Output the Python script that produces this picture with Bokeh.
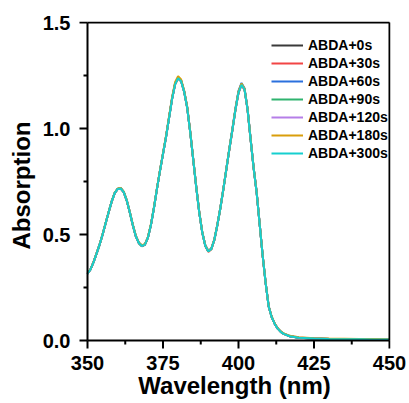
from bokeh.plotting import figure
from bokeh.models import Legend, LegendItem, Range1d, FixedTicker, NumeralTickFormatter
from bokeh.embed import file_html
from bokeh.resources import INLINE

wavelength = list(range(350, 416)) + [417, 420, 425, 430, 435, 440, 445, 450]

abs_0s = [
    0.315, 0.335, 0.370, 0.410, 0.452, 0.500, 0.553, 0.605, 0.655, 0.695,
    0.715, 0.718, 0.700, 0.660, 0.605, 0.545, 0.492, 0.460, 0.446, 0.452,
    0.485, 0.545, 0.625, 0.715, 0.800, 0.880, 0.960, 1.050, 1.140, 1.210,
    1.239, 1.225, 1.175, 1.100, 0.985, 0.855, 0.725, 0.605, 0.510, 0.448,
    0.421, 0.432, 0.475, 0.545, 0.625, 0.715, 0.810, 0.905, 0.995, 1.090,
    1.170, 1.208, 1.185, 1.090, 0.950, 0.815, 0.700, 0.550, 0.400, 0.270,
    0.160, 0.110, 0.078, 0.056, 0.041, 0.031,
    0.020, 0.013, 0.009, 0.007, 0.006, 0.006, 0.005, 0.005]
abs_30s = [
    0.316, 0.336, 0.371, 0.410, 0.452, 0.499, 0.552, 0.604, 0.654, 0.694,
    0.714, 0.716, 0.699, 0.659, 0.604, 0.544, 0.491, 0.459, 0.445, 0.451,
    0.484, 0.544, 0.624, 0.714, 0.799, 0.879, 0.959, 1.049, 1.138, 1.207,
    1.236, 1.222, 1.172, 1.098, 0.983, 0.853, 0.723, 0.603, 0.508, 0.446,
    0.418, 0.430, 0.473, 0.543, 0.623, 0.713, 0.808, 0.903, 0.993, 1.087,
    1.167, 1.205, 1.182, 1.088, 0.948, 0.813, 0.698, 0.549, 0.399, 0.269,
    0.160, 0.110, 0.078, 0.056, 0.041, 0.031,
    0.020, 0.013, 0.009, 0.007, 0.006, 0.006, 0.005, 0.005]
abs_60s = [
    0.315, 0.335, 0.370, 0.410, 0.452, 0.500, 0.553, 0.606, 0.656, 0.696,
    0.716, 0.719, 0.701, 0.661, 0.606, 0.546, 0.493, 0.461, 0.447, 0.453,
    0.486, 0.546, 0.626, 0.716, 0.801, 0.881, 0.962, 1.052, 1.142, 1.212,
    1.241, 1.227, 1.177, 1.102, 0.987, 0.857, 0.727, 0.607, 0.511, 0.449,
    0.422, 0.433, 0.476, 0.546, 0.627, 0.717, 0.813, 0.909, 1.000, 1.096,
    1.177, 1.215, 1.190, 1.094, 0.953, 0.817, 0.702, 0.551, 0.401, 0.271,
    0.161, 0.110, 0.078, 0.056, 0.041, 0.031,
    0.020, 0.013, 0.009, 0.007, 0.006, 0.006, 0.005, 0.005]
abs_90s = [
    0.315, 0.335, 0.370, 0.410, 0.452, 0.500, 0.553, 0.605, 0.655, 0.695,
    0.715, 0.717, 0.700, 0.660, 0.604, 0.544, 0.491, 0.459, 0.444, 0.451,
    0.484, 0.545, 0.625, 0.715, 0.800, 0.880, 0.960, 1.049, 1.139, 1.209,
    1.238, 1.224, 1.174, 1.099, 0.984, 0.854, 0.724, 0.604, 0.509, 0.447,
    0.420, 0.431, 0.474, 0.544, 0.624, 0.714, 0.809, 0.905, 0.996, 1.091,
    1.172, 1.210, 1.186, 1.091, 0.951, 0.815, 0.700, 0.550, 0.400, 0.270,
    0.160, 0.110, 0.078, 0.056, 0.041, 0.031,
    0.020, 0.013, 0.009, 0.007, 0.006, 0.006, 0.005, 0.005]
abs_120s = [
    0.315, 0.335, 0.370, 0.410, 0.452, 0.500, 0.553, 0.605, 0.655, 0.695,
    0.715, 0.718, 0.701, 0.661, 0.606, 0.546, 0.493, 0.461, 0.447, 0.453,
    0.486, 0.546, 0.626, 0.716, 0.801, 0.881, 0.961, 1.051, 1.141, 1.211,
    1.240, 1.226, 1.176, 1.101, 0.986, 0.856, 0.726, 0.606, 0.511, 0.449,
    0.423, 0.434, 0.476, 0.546, 0.626, 0.716, 0.811, 0.906, 0.996, 1.091,
    1.171, 1.209, 1.186, 1.091, 0.951, 0.816, 0.701, 0.551, 0.401, 0.271,
    0.161, 0.111, 0.079, 0.057, 0.042, 0.032,
    0.021, 0.014, 0.010, 0.008, 0.007, 0.006, 0.006, 0.006]
abs_180s = [
    0.316, 0.336, 0.371, 0.411, 0.453, 0.501, 0.554, 0.606, 0.656, 0.697,
    0.717, 0.720, 0.702, 0.662, 0.607, 0.547, 0.495, 0.463, 0.449, 0.455,
    0.488, 0.548, 0.628, 0.718, 0.803, 0.884, 0.965, 1.056, 1.147, 1.218,
    1.247, 1.231, 1.179, 1.104, 0.988, 0.858, 0.728, 0.608, 0.512, 0.450,
    0.423, 0.434, 0.477, 0.547, 0.627, 0.717, 0.812, 0.908, 0.998, 1.094,
    1.174, 1.212, 1.188, 1.093, 0.952, 0.817, 0.702, 0.552, 0.402, 0.272,
    0.162, 0.112, 0.080, 0.058, 0.043, 0.033,
    0.022, 0.015, 0.011, 0.009, 0.008, 0.007, 0.007, 0.006]
abs_300s = [
    0.315, 0.335, 0.370, 0.410, 0.452, 0.500, 0.553, 0.605, 0.655, 0.695,
    0.715, 0.717, 0.700, 0.660, 0.605, 0.545, 0.492, 0.460, 0.446, 0.452,
    0.485, 0.545, 0.625, 0.715, 0.800, 0.880, 0.960, 1.049, 1.139, 1.208,
    1.237, 1.223, 1.174, 1.099, 0.984, 0.854, 0.724, 0.604, 0.509, 0.447,
    0.421, 0.432, 0.475, 0.545, 0.625, 0.715, 0.810, 0.905, 0.995, 1.089,
    1.169, 1.206, 1.184, 1.089, 0.949, 0.814, 0.699, 0.550, 0.400, 0.270,
    0.160, 0.110, 0.078, 0.056, 0.041, 0.031,
    0.020, 0.013, 0.009, 0.007, 0.006, 0.006, 0.005, 0.005]

series_labels = ["ABDA+0s", "ABDA+30s", "ABDA+60s", "ABDA+90s",
                 "ABDA+120s", "ABDA+180s", "ABDA+300s"]
series_values = [abs_0s, abs_30s, abs_60s, abs_90s, abs_120s, abs_180s, abs_300s]
series_colors = ["#3a3a3a", "#f24545", "#2b70dd", "#2fb36f",
                 "#b57ee8", "#d99e0b", "#16cfcf"]

x_limits = [350, 450]
y_limits = [0.0, 1.5]
x_ticks = [350, 375, 400, 425, 450]
x_minor = [362.5, 387.5, 412.5, 437.5]
y_ticks = [0.0, 0.5, 1.0, 1.5]
y_minor = [0.25, 0.75, 1.25]

FONT = "Liberation Sans"

# box geometry in pixels; the frame is padded so outward ticks can be drawn inside it
BOX_LEFT, BOX_TOP, BOX_W, BOX_H = 87, 22, 302, 318
PAD_L, PAD_R, PAD_T, PAD_B = 9, 1, 1, 9
MAJ, MIN = 8, 4
W, H = 409, 403
kx = BOX_W / (x_limits[1] - x_limits[0])
ky = BOX_H / (y_limits[1] - y_limits[0])

frame_w = BOX_W + PAD_L + PAD_R
frame_h = BOX_H + PAD_T + PAD_B
p = figure(width=W, height=H, output_backend="svg", toolbar_location=None,
           x_range=Range1d(x_limits[0] - PAD_L / kx, x_limits[1] + PAD_R / kx),
           y_range=Range1d(y_limits[0] - PAD_B / ky, y_limits[1] + PAD_T / ky),
           min_border_left=BOX_LEFT - PAD_L,
           min_border_right=W - (BOX_LEFT - PAD_L) - frame_w,
           min_border_top=BOX_TOP - PAD_T,
           min_border_bottom=H - (BOX_TOP - PAD_T) - frame_h)
p.grid.visible = False
p.outline_line_color = None

items = []
for lab, vals, col in zip(series_labels, series_values, series_colors):
    r = p.line(wavelength, vals, line_color=col, line_width=2)
    items.append(LegendItem(label=lab, renderers=[r]))

# frame box
x0, x1 = x_limits
y0, y1 = y_limits
p.segment(x0=[x0, x0, x0, x1], y0=[y0, y1, y0, y0],
          x1=[x1, x1, x0, x1], y1=[y0, y1, y1, y1],
          line_color="black", line_width=2)
# outward ticks
p.segment(x0=x_ticks, y0=[y0] * len(x_ticks), x1=x_ticks,
          y1=[y0 - MAJ / ky] * len(x_ticks), line_color="black", line_width=2)
p.segment(x0=x_minor, y0=[y0] * len(x_minor), x1=x_minor,
          y1=[y0 - MIN / ky] * len(x_minor), line_color="black", line_width=2)
p.segment(x0=[x0] * len(y_ticks), y0=y_ticks, x1=[x0 - MAJ / kx] * len(y_ticks),
          y1=y_ticks, line_color="black", line_width=2)
p.segment(x0=[x0] * len(y_minor), y0=y_minor, x1=[x0 - MIN / kx] * len(y_minor),
          y1=y_minor, line_color="black", line_width=2)

p.xaxis[0].ticker = FixedTicker(ticks=x_ticks, minor_ticks=[])
p.yaxis[0].ticker = FixedTicker(ticks=y_ticks, minor_ticks=[])
p.yaxis[0].formatter = NumeralTickFormatter(format="0.0")
p.xaxis[0].axis_label = "Wavelength (nm)"
p.yaxis[0].axis_label = "Absorption"

for ax in (p.xaxis[0], p.yaxis[0]):
    ax.axis_line_color = None
    ax.major_tick_line_color = None
    ax.minor_tick_line_color = None
    ax.major_tick_out = 0
    ax.major_tick_in = 0
    ax.minor_tick_out = 0
    ax.minor_tick_in = 0
    ax.major_label_text_font = FONT
    ax.major_label_text_font_style = "bold"
    ax.major_label_text_font_size = "20px"
    ax.major_label_text_color = "black"
    ax.axis_label_text_font = FONT
    ax.axis_label_text_font_style = "bold"
    ax.axis_label_text_font_size = "24px"
    ax.axis_label_text_color = "black"

p.xaxis[0].major_label_standoff = 6
p.xaxis[0].axis_label_standoff = -1
p.yaxis[0].major_label_standoff = 8
p.yaxis[0].axis_label_standoff = 5

legend = Legend(items=items, location=(193, 187))
legend.border_line_color = None
legend.background_fill_alpha = 0
legend.padding = 0
legend.margin = 0
legend.spacing = 0
legend.glyph_height = 18
legend.label_height = 18
legend.glyph_width = 32
legend.label_standoff = 5
legend.label_text_font = FONT
legend.label_text_font_style = "bold"
legend.label_text_font_size = "14px"
legend.label_text_color = "black"
p.add_layout(legend)

open("out.html", "w").write(file_html(p, INLINE))
